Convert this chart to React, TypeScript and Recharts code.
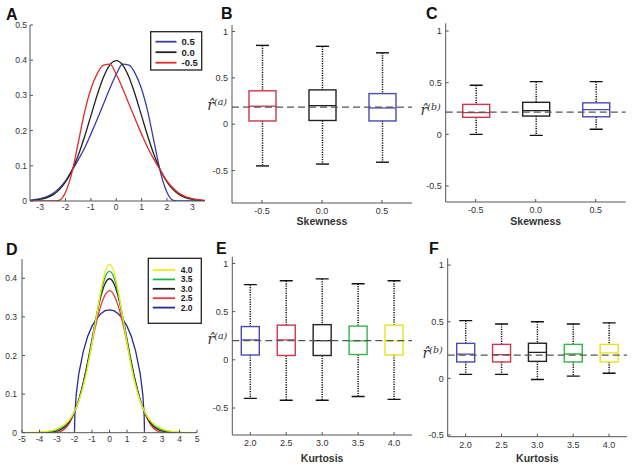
import React from 'react';
import { LineChart, Line, XAxis, YAxis, BarChart, Bar, ReferenceLine } from 'recharts';

const FONT = '"Liberation Sans", Arial, Helvetica, sans-serif';
const AX = '#555';
const TXT = '#333';

// ---------- Panel A: skewness densities ----------
const skewX = [-3.5, -3.25, -3, -2.75, -2.5, -2.25, -2, -1.75, -1.5, -1.25, -1, -0.75, -0.5, -0.25, 0, 0.25, 0.5, 0.75, 1, 1.25, 1.5, 1.75, 2, 2.25, 2.5, 2.75, 3, 3.25, 3.5];
const skewPos05 = [0.002, 0.004, 0.007, 0.012, 0.021, 0.036, 0.057, 0.086, 0.117, 0.15, 0.19, 0.232, 0.276, 0.32, 0.36, 0.389, 0.386, 0.362, 0.318, 0.252, 0.165, 0.08, 0.025, 0.002, 0, 0, 0, 0, 0];
const skewZero = [0.0009, 0.002, 0.0044, 0.0091, 0.0175, 0.0317, 0.054, 0.0863, 0.1295, 0.1826, 0.242, 0.3011, 0.3521, 0.3867, 0.3989, 0.3867, 0.3521, 0.3011, 0.242, 0.1826, 0.1295, 0.0863, 0.054, 0.0317, 0.0175, 0.0091, 0.0044, 0.002, 0.0009];
const skewNeg05 = [0, 0, 0, 0, 0, 0.002, 0.025, 0.08, 0.165, 0.252, 0.318, 0.362, 0.386, 0.389, 0.36, 0.32, 0.276, 0.232, 0.19, 0.15, 0.117, 0.086, 0.057, 0.036, 0.021, 0.012, 0.007, 0.004, 0.002];
const skewLegend = ['0.5', '0.0', '-0.5'];
const skewXTicks = [-3, -2, -1, 0, 1, 2, 3];
const densYTicksA = [0, 0.1, 0.2, 0.3, 0.4, 0.5];

// ---------- Panel D: kurtosis densities ----------
const kurtX = [-5, -4.5, -4, -3.5, -3, -2.75, -2.5, -2.25, -2, -1.75, -1.5, -1.25, -1, -0.75, -0.5, -0.25, 0, 0.25, 0.5, 0.75, 1, 1.25, 1.5, 1.75, 2, 2.25, 2.5, 2.75, 3, 3.5, 4, 4.5, 5];
const kurt25 = [0, 0, 0, 0, 0.001, 0.004, 0.012, 0.028, 0.052, 0.085, 0.128, 0.178, 0.232, 0.285, 0.328, 0.357, 0.368, 0.357, 0.328, 0.285, 0.232, 0.178, 0.128, 0.085, 0.052, 0.028, 0.012, 0.004, 0.001, 0, 0, 0, 0];
const kurt30 = [0, 0.00002, 0.0001, 0.0009, 0.0044, 0.0091, 0.0175, 0.0317, 0.054, 0.0863, 0.1295, 0.1826, 0.242, 0.3011, 0.3521, 0.3867, 0.3989, 0.3867, 0.3521, 0.3011, 0.242, 0.1826, 0.1295, 0.0863, 0.054, 0.0317, 0.0175, 0.0091, 0.0044, 0.0009, 0.0001, 0.00002, 0];
const kurt35 = [0.0001, 0.0003, 0.001, 0.003, 0.008, 0.013, 0.022, 0.035, 0.055, 0.084, 0.124, 0.175, 0.236, 0.3, 0.36, 0.403, 0.418, 0.403, 0.36, 0.3, 0.236, 0.175, 0.124, 0.084, 0.055, 0.035, 0.022, 0.013, 0.008, 0.003, 0.001, 0.0003, 0.0001];
const kurt40 = [0.0003, 0.0007, 0.0017, 0.004, 0.01, 0.016, 0.024, 0.036, 0.055, 0.082, 0.12, 0.17, 0.232, 0.3, 0.367, 0.417, 0.436, 0.417, 0.367, 0.3, 0.232, 0.17, 0.12, 0.082, 0.055, 0.036, 0.024, 0.016, 0.01, 0.004, 0.0017, 0.0007, 0.0003];
const kurt20X = [-2, -1.98, -1.9, -1.75, -1.5, -1.25, -1, -0.75, -0.5, -0.25, 0, 0.25, 0.5, 0.75, 1, 1.25, 1.5, 1.75, 1.9, 1.98, 2];
const kurt20 = [0, 0.045, 0.1, 0.154, 0.21, 0.249, 0.276, 0.295, 0.308, 0.316, 0.318, 0.316, 0.308, 0.295, 0.276, 0.249, 0.21, 0.154, 0.1, 0.045, 0];
const kurtLegend = ['4.0', '3.5', '3.0', '2.5', '2.0'];
const kurtXTicks = [-5, -4, -3, -2, -1, 0, 1, 2, 3, 4, 5];
const densYTicksD = [0, 0.1, 0.2, 0.3, 0.4];

// ---------- Box plots ----------
const skewCats = ['-0.5', '0.0', '0.5'];
const kurtCats = ['2.0', '2.5', '3.0', '3.5', '4.0'];
const boxYTicks = [-0.5, 0, 0.5, 1];

// B: r^(a) vs skewness
const bMin = [-0.45, -0.43, -0.41];
const bQ1 = [0.035, 0.04, 0.035];
const bMed = [0.194, 0.2, 0.175];
const bQ3 = [0.36, 0.37, 0.33];
const bMax = [0.85, 0.84, 0.77];
const bRef = 0.185;

// C: r^(b) vs skewness
const cMin = [0.0, -0.01, 0.05];
const cQ1 = [0.165, 0.177, 0.17];
const cMed = [0.21, 0.23, 0.24];
const cQ3 = [0.29, 0.31, 0.305];
const cMax = [0.475, 0.51, 0.51];
const cRef = 0.215;

// E: r^(a) vs kurtosis
const eMin = [-0.4, -0.42, -0.42, -0.38, -0.41];
const eQ1 = [0.05, 0.045, 0.045, 0.055, 0.05];
const eMed = [0.207, 0.207, 0.2, 0.197, 0.197];
const eQ3 = [0.345, 0.36, 0.365, 0.35, 0.36];
const eMax = [0.78, 0.82, 0.84, 0.79, 0.82];
const eRef = 0.2;

// F: r^(b) vs kurtosis
const fMin = [0.035, 0.035, -0.01, 0.02, 0.045];
const fQ1 = [0.145, 0.145, 0.15, 0.145, 0.145];
const fMed = [0.214, 0.21, 0.23, 0.215, 0.225];
const fQ3 = [0.309, 0.3, 0.31, 0.3, 0.3];
const fMax = [0.51, 0.48, 0.5, 0.48, 0.49];
const fRef = 0.205;

const RED = '#d0354c';
const BLUE = '#4a4ab2';
const BLACK = '#222';
const GREEN = '#34b54a';
const YELLOW = '#e8e21c';
const skewColors = [RED, BLACK, BLUE];
const kurtColors = [BLUE, RED, BLACK, GREEN, YELLOW];

const makeRows = (cats: string[], mn: number[], q1: number[], md: number[], q3: number[], mx: number[], colors: string[]) =>
  cats.map((c, i) => ({ label: c, min: mn[i], q1: q1[i], med: md[i], q3: q3[i], max: mx[i], color: colors[i] }));

const toPoints = (xs: number[], ys: number[]) => xs.map((x, i) => ({ x, y: ys[i] }));

function BoxShape(props: any) {
  const { x, y, width, height, payload } = props;
  if (!payload) return null;
  const top = Math.min(y, y + height);
  const h = Math.abs(height);
  const span = payload.max - payload.min;
  const py = (v: number) => top + ((payload.max - v) / span) * h;
  const cx = x + width / 2;
  const cap = 6.5;
  const c = payload.color;
  return (
    <g>
      <line x1={cx} x2={cx} y1={py(payload.max)} y2={py(payload.q3)} stroke="#111" strokeWidth={1.5} strokeDasharray="1.2 1.2" />
      <line x1={cx} x2={cx} y1={py(payload.q1)} y2={py(payload.min)} stroke="#111" strokeWidth={1.5} strokeDasharray="1.2 1.2" />
      <line x1={cx - cap} x2={cx + cap} y1={py(payload.max)} y2={py(payload.max)} stroke="#111" strokeWidth={1.4} />
      <line x1={cx - cap} x2={cx + cap} y1={py(payload.min)} y2={py(payload.min)} stroke="#111" strokeWidth={1.4} />
      <rect x={x} y={py(payload.q3)} width={width} height={py(payload.q1) - py(payload.q3)} fill="none" stroke={c} strokeWidth={1.4} />
      <line x1={x} x2={x + width} y1={py(payload.med)} y2={py(payload.med)} stroke={c} strokeWidth={1.3} />
    </g>
  );
}

function RHat(props: any) {
  const vb = props.viewBox || {};
  return (
    <text x={vb.x - 5} y={vb.y + 3} textAnchor="end" fill="#333" fontFamily='"DejaVu Serif", serif' fontStyle="italic">
      <tspan fontSize={14}>{'r\u0302'}</tspan>
      <tspan fontSize={9.5} dy={-5}>{props.sup}</tspan>
    </text>
  );
}

function BoxPanel(p: any) {
  return (
    <div style={{ position: 'absolute', left: p.left, top: p.top }}>
      <BarChart width={p.width} height={p.height} data={p.rows} margin={p.margin}>
        <XAxis
          dataKey="label"
          type="category"
          height={p.xAxisH}
          interval={0}
          axisLine={{ stroke: AX }}
          tickLine={{ stroke: AX }}
          tickSize={-3}
          tickMargin={p.xTickMargin}
          tick={{ fontSize: 9, fill: TXT, fontFamily: FONT }}
          label={{ value: p.xLabel, position: 'insideBottom', offset: p.labelOffset, style: { fontSize: 10.5, fontWeight: 'bold', fill: '#333', fontFamily: FONT } }}
        />
        <YAxis
          type="number"
          domain={p.yDomain}
          ticks={boxYTicks}
          width={p.yAxisW}
          allowDataOverflow
          axisLine={{ stroke: AX }}
          tickLine={{ stroke: AX }}
          tickSize={-3}
          tickMargin={7}
          tick={{ fontSize: 9, fill: TXT, fontFamily: FONT }}
          tickFormatter={(v: number) => String(v)}
        />
        <Bar dataKey={(d: any) => [d.min, d.max]} barSize={p.barSize} isAnimationActive={false} shape={<BoxShape />} />
        <ReferenceLine y={p.refVal} stroke="#555" strokeWidth={1.3} strokeDasharray="7 4" label={<RHat sup={p.sup} />} />
      </BarChart>
    </div>
  );
}

function DensityPanel(p: any) {
  return (
    <div style={{ position: 'absolute', left: p.left, top: p.top }}>
      <LineChart width={p.width} height={p.height} margin={p.margin}>
        <XAxis
          dataKey="x"
          type="number"
          domain={p.xDomain}
          ticks={p.xTicks}
          allowDataOverflow
          height={p.xAxisH}
          interval={0}
          axisLine={{ stroke: AX }}
          tickLine={{ stroke: AX }}
          tickSize={-3}
          tickMargin={p.xTickMargin}
          tick={{ fontSize: 8.5, fill: TXT, fontFamily: FONT }}
          tickFormatter={(v: number) => String(v)}
        />
        <YAxis
          type="number"
          domain={p.yDomain}
          ticks={p.yTicks}
          allowDataOverflow
          width={p.yAxisW}
          axisLine={{ stroke: AX }}
          tickLine={{ stroke: AX }}
          tickSize={-3}
          tickMargin={p.yTickMargin}
          tick={{ fontSize: 8.5, fill: TXT, fontFamily: FONT }}
          tickFormatter={(v: number) => String(v)}
        />
        {p.series.map((s: any, i: number) => (
          <Line key={i} data={s.data} dataKey="y" type={s.type || 'monotone'} stroke={s.color} strokeWidth={1.3} dot={false} isAnimationActive={false} />
        ))}
      </LineChart>
    </div>
  );
}

function LegendBox(p: any) {
  return (
    <svg style={{ position: 'absolute', left: 0, top: 0 }} width={635} height={468}>
      <rect x={p.x} y={p.y} width={p.w} height={p.h} fill="#fff" stroke="#222" strokeWidth={1.3} />
      {p.items.map((it: string, i: number) => {
        const ry = p.y0 + i * p.rowH;
        return (
          <g key={i}>
            <line x1={p.lx0} x2={p.lx1} y1={ry} y2={ry} stroke={p.colors[i]} strokeWidth={1.8} />
            <text x={p.tx} y={ry + p.fs * 0.36} fontSize={p.fs} fontWeight="bold" fill="#222" fontFamily={FONT}>{it}</text>
          </g>
        );
      })}
    </svg>
  );
}

const DA_RED = '#e02a2a';
const DA_BLUE = '#3a3ab0';
const DA_BLACK = '#222';
const DK_YELLOW = '#eeee10';
const DK_GREEN = '#22b24c';
const DK_RED = '#e23c3c';
const DK_BLUE = '#28289a';

export default function App() {
  const rowsB = makeRows(skewCats, bMin, bQ1, bMed, bQ3, bMax, skewColors);
  const rowsC = makeRows(skewCats, cMin, cQ1, cMed, cQ3, cMax, skewColors);
  const rowsE = makeRows(kurtCats, eMin, eQ1, eMed, eQ3, eMax, kurtColors);
  const rowsF = makeRows(kurtCats, fMin, fQ1, fMed, fQ3, fMax, kurtColors);

  const seriesA = [
    { data: toPoints(skewX, skewPos05), color: DA_BLUE },
    { data: toPoints(skewX, skewZero), color: DA_BLACK },
    { data: toPoints(skewX, skewNeg05), color: DA_RED },
  ];
  const seriesD = [
    { data: toPoints(kurt20X, kurt20), color: DK_BLUE, type: 'linear' },
    { data: toPoints(kurtX, kurt25), color: DK_RED },
    { data: toPoints(kurtX, kurt30), color: DA_BLACK },
    { data: toPoints(kurtX, kurt35), color: DK_GREEN },
    { data: toPoints(kurtX, kurt40), color: DK_YELLOW },
  ];

  const letter = { fontSize: 16, fontWeight: 'bold' as const, fill: '#111', fontFamily: FONT };

  return (
    <div style={{ position: 'absolute', left: 0, top: 0, width: 635, height: 468, background: '#fff', overflow: 'hidden' }}>
      <DensityPanel left={0} top={0} width={210} height={215} margin={{ top: 25, right: 5, bottom: 0, left: 0 }}
        yAxisW={30} xAxisH={14} xDomain={[-3.4, 3.5]} yDomain={[0, 0.5]} xTicks={skewXTicks} yTicks={densYTicksA}
        xTickMargin={6} yTickMargin={6} series={seriesA} />
      <DensityPanel left={0} top={230} width={205} height={220} margin={{ top: 29, right: 8, bottom: 0, left: 0 }}
        yAxisW={22} xAxisH={17.3} xDomain={[-5, 5]} yDomain={[0, 0.45]} xTicks={kurtXTicks} yTicks={densYTicksD}
        xTickMargin={6} yTickMargin={8} series={seriesD} />

      <BoxPanel left={195} top={0} width={220} height={230} margin={{ top: 25, right: 3, bottom: 0, left: 0 }}
        yAxisW={37} xAxisH={27} yDomain={[-0.85, 1.07]} rows={rowsB} refVal={bRef} sup="(a)" xLabel="Skewness"
        barSize={27} xTickMargin={7.5} labelOffset={5.5} />
      <BoxPanel left={410} top={0} width={220} height={230} margin={{ top: 23.3, right: 4.3, bottom: 0, left: 0 }}
        yAxisW={35.7} xAxisH={28} yDomain={[-0.655, 1.075]} rows={rowsC} refVal={cRef} sup="(b)" xLabel="Skewness"
        barSize={27} xTickMargin={7.5} labelOffset={5.5} />
      <BoxPanel left={195} top={230} width={220} height={235} margin={{ top: 26.7, right: 3, bottom: 0, left: 0 }}
        yAxisW={37.3} xAxisH={30} yDomain={[-0.78, 1.07]} rows={rowsE} refVal={eRef} sup="(a)" xLabel="Kurtosis"
        barSize={18} xTickMargin={8} labelOffset={3.5} />
      <BoxPanel left={410} top={230} width={220} height={235} margin={{ top: 28.3, right: 3, bottom: 0, left: 0 }}
        yAxisW={37.7} xAxisH={28.3} yDomain={[-0.515, 1.06]} rows={rowsF} refVal={fRef} sup="(b)" xLabel="Kurtosis"
        barSize={18} xTickMargin={8} labelOffset={3.5} />

      <LegendBox x={150.7} y={31.7} w={51} h={38.3} y0={41.7} rowH={10.5} lx0={155.5} lx1={176.5} tx={181.5} fs={9.5}
        items={skewLegend} colors={[DA_BLUE, DA_BLACK, DA_RED]} />
      <LegendBox x={148.3} y={258.3} w={53} h={65} y0={270} rowH={9.4} lx0={152.7} lx1={175} tx={180.7} fs={8.5}
        items={kurtLegend} colors={[DK_YELLOW, DK_GREEN, DA_BLACK, DK_RED, DK_BLUE]} />

      <svg style={{ position: 'absolute', left: 0, top: 0, pointerEvents: 'none' }} width={635} height={468}>
        <text x={6} y={20} {...letter}>A</text>
        <text x={221} y={19} {...letter}>B</text>
        <text x={426} y={19} {...letter}>C</text>
        <text x={6} y={255} {...letter}>D</text>
        <text x={216} y={253.5} {...letter}>E</text>
        <text x={429} y={253.5} {...letter}>F</text>
      </svg>
    </div>
  );
}
